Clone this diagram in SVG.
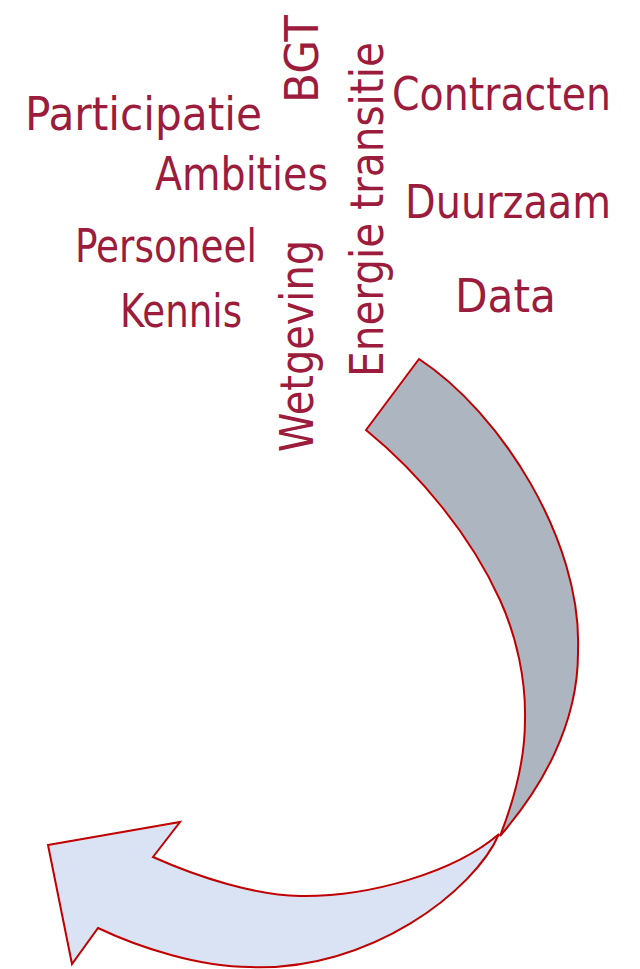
<svg xmlns="http://www.w3.org/2000/svg" width="640" height="969" viewBox="0 0 640 969">
<style>
.w{font-family:"DejaVu Sans","Liberation Sans",sans-serif;font-stretch:condensed;font-size:47px;fill:#9b1c3d;}
.rib{stroke:#c00000;stroke-width:2;stroke-linejoin:miter;}
</style>
<rect width="640" height="969" fill="#ffffff"/>
<g id="words">
<g id="w-participatie"><text class="w" x="25" y="130" textLength="237" lengthAdjust="spacingAndGlyphs">Participatie</text></g>
<g id="w-ambities"><text class="w" x="155" y="190" textLength="173" lengthAdjust="spacingAndGlyphs">Ambities</text></g>
<g id="w-personeel"><text class="w" x="75" y="262" textLength="182" lengthAdjust="spacingAndGlyphs">Personeel</text></g>
<g id="w-kennis"><text class="w" x="120" y="327" textLength="122" lengthAdjust="spacingAndGlyphs">Kennis</text></g>
<g id="w-contracten"><text class="w" x="392" y="110" textLength="219" lengthAdjust="spacingAndGlyphs">Contracten</text></g>
<g id="w-duurzaam"><text class="w" x="405" y="218" textLength="206" lengthAdjust="spacingAndGlyphs">Duurzaam</text></g>
<g id="w-data"><text class="w" x="455" y="312" textLength="101" lengthAdjust="spacingAndGlyphs">Data</text></g>
<g id="w-bgt"><text class="w" transform="translate(318,103) rotate(-90)" x="0" y="0" textLength="88" lengthAdjust="spacingAndGlyphs">BGT</text></g>
<g id="w-energie"><text class="w" transform="translate(383,377) rotate(-90)" x="0" y="0" textLength="335" lengthAdjust="spacingAndGlyphs">Energie transitie</text></g>
<g id="w-wetgeving"><text class="w" transform="translate(313,452) rotate(-90)" x="0" y="0" textLength="212" lengthAdjust="spacingAndGlyphs">Wetgeving</text></g>
</g>
<g id="arrow">
<path id="arrow-back" class="rib" fill="#adb5c1" d="M419,359 C500,412 582,540 578,650 C579,725 540,790 500,836 C511,808 525,765 525,720 C526,680 516.6,636.4 500,600 C471,536 420,474 366,430 Z"/>
<path id="arrow-front" class="rib" fill="#dae3f3" d="M48,845 L180,822 L153,857 C200,878 255,895 300,896 C370,897 455,872 499,834 C475,890 370,972 250,967 C200,967 140,948 98,928 L72,964 Z"/>
</g>
</svg>
